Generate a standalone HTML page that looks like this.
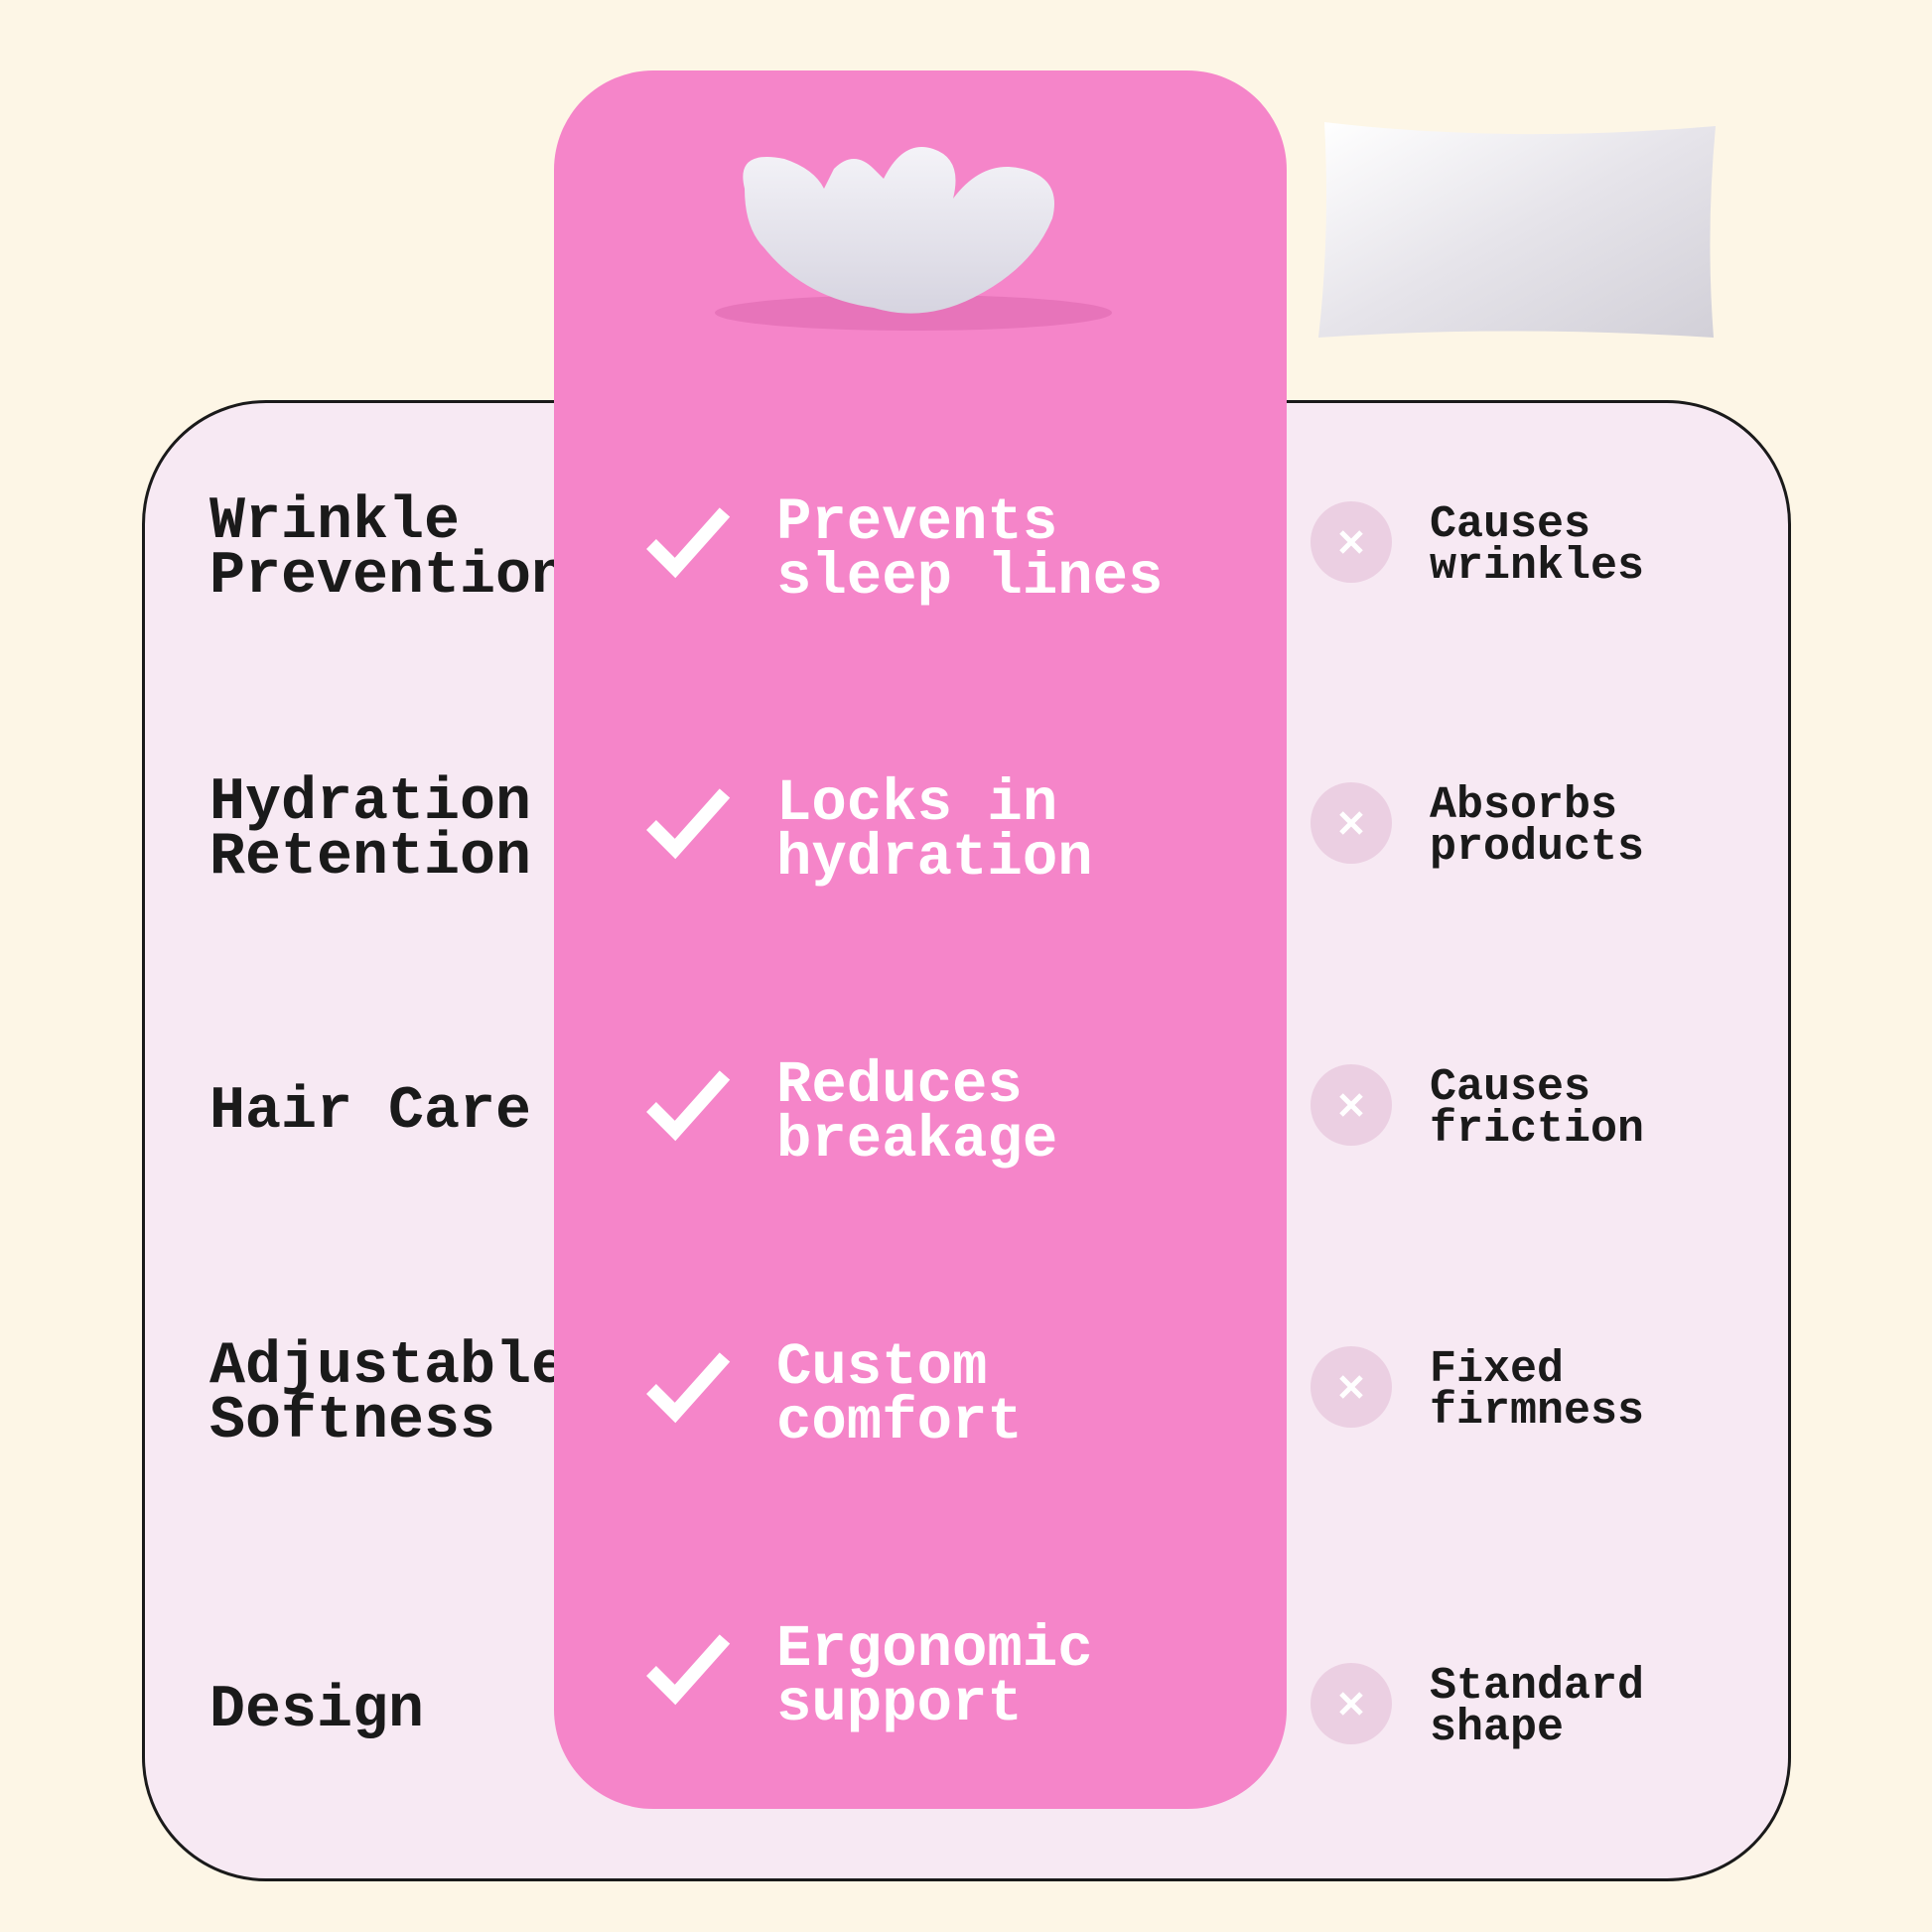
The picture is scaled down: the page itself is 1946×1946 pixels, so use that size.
<!DOCTYPE html>
<html><head><meta charset="utf-8"><style>
*{margin:0;padding:0;box-sizing:border-box}
body{width:1946px;height:1946px;background:#fdf6e6;position:relative;overflow:hidden;font-family:"Liberation Mono",monospace;font-weight:bold}
.card{position:absolute;left:143px;top:403px;width:1661px;height:1492px;border:3px solid #1a1a1a;border-radius:125px;background:#f7e9f3}
.pink{position:absolute;left:558px;top:71px;width:738px;height:1751px;background:#f585c9;border-radius:100px}
.lbl{position:absolute;left:211px;font-size:60px;line-height:55px;color:#1a1a1a;white-space:pre}
.mid{position:absolute;left:782px;font-size:59px;line-height:55px;color:#fff;white-space:pre}
.rt{position:absolute;left:1440px;font-size:45px;line-height:42px;color:#1a1a1a;white-space:pre}
.chk{position:absolute;left:648px;width:90px;height:80px}
.x{position:absolute;left:1320px;width:82px;height:82px;border-radius:50%;background:#ebcfe2}
</style></head><body>
<div class="card"></div>
<div class="lbl" style="top:499px">Wrinkle
Prevention</div>
<div class="lbl" style="top:782px">Hydration
Retention</div>
<div class="lbl" style="top:1093px">Hair Care</div>
<div class="lbl" style="top:1350px">Adjustable
Softness</div>
<div class="lbl" style="top:1696px">Design</div>
<div class="pink"></div>
<svg style="position:absolute;left:690px;top:130px" width="460" height="230">
<defs><linearGradient id="g1" x1="0" y1="0" x2="0" y2="1"><stop offset="0" stop-color="#f4f3f8"/><stop offset="1" stop-color="#d6d4e0"/></linearGradient>
<linearGradient id="g2" x1="0" y1="0" x2="1" y2="1"><stop offset="0" stop-color="#ffffff"/><stop offset="0.5" stop-color="#e6e4ea"/><stop offset="1" stop-color="#d2d0d8"/></linearGradient></defs>
<ellipse cx="230" cy="185" rx="200" ry="18" fill="#d860a8" opacity="0.45"/>
<path d="M60 60 Q50 20 100 30 Q130 40 140 60 L150 40 Q170 20 190 40 L200 50 Q220 10 250 20 Q280 30 270 70 Q300 30 340 40 Q380 50 370 90 Q350 140 290 170 Q240 195 190 180 Q120 170 80 120 Q60 100 60 60Z" fill="url(#g1)"/>
</svg>
<svg style="position:absolute;left:1318px;top:115px" width="420" height="235">
<path d="M16 8 Q200 30 410 12 Q400 120 408 225 Q200 212 10 225 Q22 120 16 8Z" fill="url(#g2)"/>
</svg>
<div class="mid" style="top:499px">Prevents
sleep lines</div>
<div class="mid" style="top:782px">Locks in
hydration</div>
<div class="mid" style="top:1066px">Reduces
breakage</div>
<div class="mid" style="top:1350px">Custom
comfort</div>
<div class="mid" style="top:1634px">Ergonomic
support</div>
<svg class="chk" style="top:506px" viewBox="0 0 90 80"><path d="M8 42 L32 66 L82 10" fill="none" stroke="#fff" stroke-width="14"/></svg>
<svg class="chk" style="top:789px" viewBox="0 0 90 80"><path d="M8 42 L32 66 L82 10" fill="none" stroke="#fff" stroke-width="14"/></svg>
<svg class="chk" style="top:1073px" viewBox="0 0 90 80"><path d="M8 42 L32 66 L82 10" fill="none" stroke="#fff" stroke-width="14"/></svg>
<svg class="chk" style="top:1357px" viewBox="0 0 90 80"><path d="M8 42 L32 66 L82 10" fill="none" stroke="#fff" stroke-width="14"/></svg>
<svg class="chk" style="top:1641px" viewBox="0 0 90 80"><path d="M8 42 L32 66 L82 10" fill="none" stroke="#fff" stroke-width="14"/></svg>
<svg class="x" style="top:505px" viewBox="0 0 82 82"><path d="M31 31L51 51M51 31L31 51" stroke="#fff" stroke-width="5"/></svg>
<svg class="x" style="top:788px" viewBox="0 0 82 82"><path d="M31 31L51 51M51 31L31 51" stroke="#fff" stroke-width="5"/></svg>
<svg class="x" style="top:1072px" viewBox="0 0 82 82"><path d="M31 31L51 51M51 31L31 51" stroke="#fff" stroke-width="5"/></svg>
<svg class="x" style="top:1356px" viewBox="0 0 82 82"><path d="M31 31L51 51M51 31L31 51" stroke="#fff" stroke-width="5"/></svg>
<svg class="x" style="top:1675px" viewBox="0 0 82 82"><path d="M31 31L51 51M51 31L31 51" stroke="#fff" stroke-width="5"/></svg>
<div class="rt" style="top:508px">Causes
wrinkles</div>
<div class="rt" style="top:791px">Absorbs
products</div>
<div class="rt" style="top:1075px">Causes
friction</div>
<div class="rt" style="top:1359px">Fixed
firmness</div>
<div class="rt" style="top:1678px">Standard
shape</div>
</body></html>
